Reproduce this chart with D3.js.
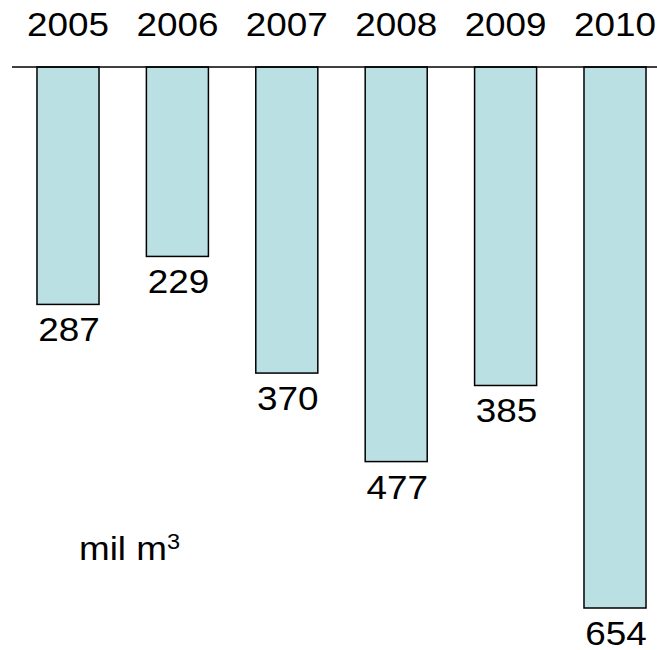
<!DOCTYPE html>
<html>
<head>
<meta charset="utf-8">
<script src="https://cdn.jsdelivr.net/npm/d3@7"></script>
<style>
  body { margin: 0; background: #fff; }
  text { font-family: "Liberation Sans", Arial, sans-serif; fill: #000; }
</style>
</head>
<body>
<script>
var years = ["2005", "2006", "2007", "2008", "2009", "2010"];
var volumes = [287, 229, 370, 477, 385, 654];
var unitLabel = "mil m";
var unitSup = "3";

var width = 657,
    height = 650;
var baseY = 67;
var stretch = 1.1; // text in the original is a bit wide

var svg = d3.select("body")
    .append("svg")
    .attr("width", width)
    .attr("height", height);

var x = d3.scaleBand()
    .domain(years)
    .range([13.3, 669.7])
    .paddingInner(0.433)
    .paddingOuter(0.2165);

var y = d3.scaleLinear()
    .domain([0, d3.max(volumes)])
    .range([baseY, 608]);

var data = years.map(function (d, i) {
    return {year: d, value: volumes[i]};
});

// bars hang down from the top line
svg.append("g")
    .selectAll("rect")
    .data(data)
    .enter()
    .append("rect")
    .attr("x", function (d) { return x(d.year); })
    .attr("y", y(0))
    .attr("width", x.bandwidth())
    .attr("height", function (d) { return y(d.value) - y(0); })
    .attr("fill", "#bbe0e3")
    .attr("stroke", "#000")
    .attr("stroke-width", 1.5);

svg.append("line")
    .attr("x1", 12)
    .attr("x2", width)
    .attr("y1", baseY)
    .attr("y2", baseY)
    .attr("stroke", "#000")
    .attr("stroke-width", 1.5);

// year labels
svg.append("g")
    .selectAll("text")
    .data(data)
    .enter()
    .append("text")
    .attr("transform", function (d) {
        return "translate(" + (x(d.year) + x.bandwidth() / 2) + ",35.7) scale(" + stretch + ",1)";
    })
    .attr("text-anchor", "middle")
    .style("font-size", "33.5px")
    .text(function (d) { return d.year; });

// value labels under each bar
svg.append("g")
    .selectAll("text")
    .data(data)
    .enter()
    .append("text")
    .attr("transform", function (d) {
        return "translate(" + (x(d.year) + x.bandwidth() / 2 + 1) + "," + (y(d.value) + 37) + ") scale(" + stretch + ",1)";
    })
    .attr("text-anchor", "middle")
    .style("font-size", "33.5px")
    .text(function (d) { return d.value; });

var unit = svg.append("text")
    .attr("transform", "translate(79,560) scale(" + stretch + ",1)")
    .style("font-size", "33.5px")
    .text(unitLabel);
unit.append("tspan")
    .attr("dy", -10.7)
    .style("font-size", "21.4px")
    .text(unitSup);
</script>
</body>
</html>
